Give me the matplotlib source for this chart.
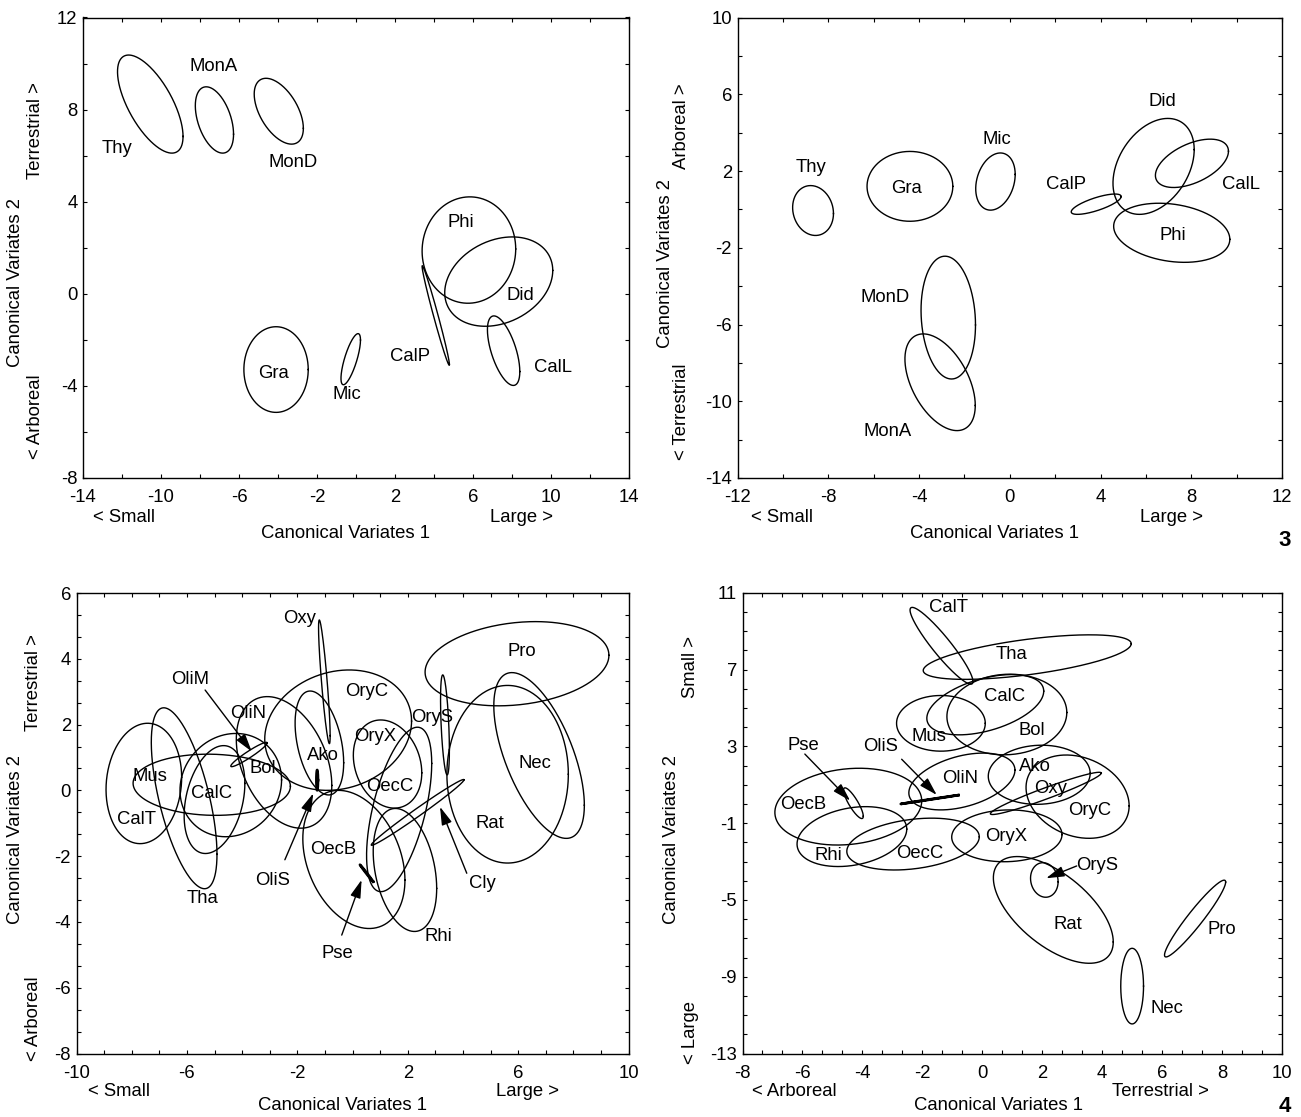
"""
Canonical variates plots: four panels of confidence ellipses
"""
import numpy as np
import matplotlib
matplotlib.use('Agg')
import matplotlib.pyplot as plt
from matplotlib.ticker import MultipleLocator, FixedLocator

plt.rcParams['font.family'] = ['Liberation Sans', 'DejaVu Sans']
plt.rcParams['axes.unicode_minus'] = False

W, H = 1301, 1117
FS = 13.3

# ---------------- panel 1 ----------------
p1_names = ['Thy', 'MonA', 'MonD', 'Phi', 'Did', 'CalP', 'CalL', 'Gra', 'Mic']
p1_cx = [-10.55, -7.26, -3.96, 5.79, 7.32, 4.09, 7.57, -4.10, -0.27]
p1_cy = [8.24, 7.55, 7.93, 1.90, 0.53, -0.94, -2.47, -3.29, -2.84]
p1_rx = [1.68, 0.98, 1.26, 2.40, 2.77, 0.70, 0.83, 1.65, 0.50]
p1_ry = [2.13, 1.44, 1.43, 2.31, 1.94, 2.16, 1.51, 1.86, 1.11]
p1_rho = [-0.66, -0.43, -0.52, 0.02, 0.25, -0.985, -0.60, 0.0, 0.75]
p1_lx = [-12.26, -7.30, -3.21, 5.38, 8.45, 2.77, 10.1, -4.21, -0.49]
p1_ly = [6.33, 9.87, 5.71, 3.09, -0.07, -2.74, -3.2, -3.45, -4.38]

# ---------------- panel 2 ----------------
p2_names = ['Thy', 'Gra', 'Mic', 'CalP', 'Did', 'CalL', 'Phi', 'MonD', 'MonA']
p2_cx = [-8.67, -4.40, -0.63, 3.81, 6.34, 8.03, 7.14, -2.71, -3.07]
p2_cy = [-0.06, 1.20, 1.45, 0.27, 2.24, 2.40, -1.22, -5.64, -9.01]
p2_rx = [0.90, 1.89, 0.87, 1.10, 1.79, 1.61, 2.56, 1.20, 1.55]
p2_ry = [1.30, 1.82, 1.49, 0.53, 2.50, 1.26, 1.54, 3.20, 2.52]
p2_rho = [-0.12, 0.0, 0.25, 0.75, 0.35, 0.5, -0.22, -0.12, -0.48]
p2_lx = [-8.75, -4.56, -0.55, 2.47, 6.71, 10.19, 7.17, -5.51, -5.38]
p2_ly = [2.18, 1.10, 3.66, 1.29, 5.62, 1.29, -1.38, -4.59, -11.59]

# ---------------- panel 3 ----------------
p3_names = ['CalT', 'Tha', 'Mus', 'CalC', 'Bol', 'OliN', 'OliM', 'Oxy', 'OryC', 'Ako', 'OliS',
            'OryX', 'OecC', 'OryS', 'OecB', 'Pse', 'Rhi', 'Cly', 'Pro', 'Nec', 'Rat']
p3_cx = [-7.56, -6.10, -5.10, -5.00, -4.41, -2.48, -3.75, -1.02, -0.52, -1.20, -1.28,
         1.27, 1.69, 3.35, 0.05, 0.51, 1.90, 2.36, 5.96, 6.76, 5.62]
p3_cy = [0.21, -0.24, 0.17, -0.28, 0.16, 0.85, 1.09, 3.30, 1.83, 1.44, 0.31,
         0.80, -0.58, 1.99, -2.10, -2.52, -2.42, -0.67, 3.85, 1.06, 0.49]
p3_rx = [1.37, 1.19, 2.85, 1.10, 1.84, 1.73, 0.66, 0.21, 2.66, 0.88, 0.03,
         1.24, 1.18, 0.16, 1.85, 0.24, 1.15, 1.68, 3.33, 1.64, 2.20]
p3_ry = [1.83, 2.75, 0.93, 1.64, 1.57, 2.00, 0.37, 1.88, 1.83, 1.58, 0.31,
         1.34, 2.50, 1.52, 2.10, 0.26, 1.87, 1.00, 1.28, 2.52, 2.70]
p3_rho = [0.1, -0.62, -0.05, 0.3, 0.1, -0.35, 0.95, -0.87, 0.15, -0.38, 0.0,
          -0.2, 0.56, -0.5, -0.3, -0.997, -0.3, 0.99, 0.2, -0.6, 0.0]
p3_thick = ['OliS', 'Pse']
p3_lx = [-7.82, -5.44, -7.34, -5.10, -3.25, -3.78, -5.89, -1.90, 0.51, -1.06, -2.88,
         0.82, 1.36, 2.88, -0.70, -0.54, 3.11, 4.72, 6.13, 6.61, 4.98]
p3_ly = [-0.88, -3.30, 0.42, -0.11, 0.67, 2.34, 3.36, 5.23, 3.0, 1.06, -2.74,
         1.63, 0.11, 2.2, -1.81, -4.95, -4.45, -2.82, 4.22, 0.82, -1.0]
# arrows: (tail x, tail y, tip x, tip y)
p3_arrows = [(-5.34, 3.05, -3.65, 1.18), (-2.45, -2.11, -1.42, -0.09),
             (-0.39, -4.40, 0.33, -2.72), (4.14, -2.52, 3.17, -0.50)]

# ---------------- panel 4 ----------------
p4_names = ['CalT', 'Tha', 'CalC', 'Bol', 'Mus', 'OliN', 'OliS', 'Pse', 'OecB', 'Rhi',
            'OecC', 'OryX', 'Ako', 'Oxy', 'OryC', 'OryS', 'Rat', 'Pro', 'Nec']
p4_cx = [-1.36, 1.5, 0.1, 0.82, -1.38, -0.68, -1.76, -4.30, -4.47, -4.35,
         -2.31, 0.82, 1.9, 2.12, 3.18, 2.07, 2.37, 7.1, 5.0]
p4_cy = [8.24, 7.65, 5.17, 4.66, 4.2, 1.17, 0.23, 0.04, -0.14, -1.70,
         -2.09, -1.66, 1.52, 0.55, 0.38, -3.96, -5.52, -5.97, -9.49]
p4_rx = [1.05, 3.47, 1.95, 2.0, 1.48, 1.77, 0.96, 0.33, 2.45, 1.83,
         2.21, 1.84, 1.7, 1.85, 1.72, 0.46, 2.0, 1.02, 0.38]
p4_ry = [2.0, 1.16, 1.57, 2.1, 1.45, 1.48, 0.23, 0.8, 2.0, 1.56,
         1.35, 1.35, 1.54, 1.1, 2.17, 0.9, 2.78, 2.0, 1.97]
p4_rho = [-0.93, 0.6, 0.45, 0.05, 0.0, 0.4, 0.999, -0.85, 0.15, 0.25,
          0.28, 0.05, 0.05, 0.96, -0.22, -0.1, -0.6, 0.95, 0.0]
p4_thick = ['OliS']
p4_lx = [-1.13, 0.98, 0.76, 1.65, -1.77, -0.74, -3.41, -5.97, -5.97, -5.14,
         -2.08, 0.81, 1.76, 2.28, 3.59, 3.84, 2.87, 7.99, 6.17]
p4_ly = [10.24, 7.76, 5.59, 3.85, 3.51, 1.34, 2.98, 3.07, -0.05, -2.66,
         -2.6, -1.67, 1.94, 0.82, -0.35, -3.23, -6.30, -6.56, -10.64]
p4_arrows = [(-5.92, 2.6, -4.41, 0.17), (-2.69, 2.33, -1.52, 0.47), (3.15, -3.23, 2.13, -3.87)]


def ax_rect(x0, y0, x1, y1):
    """pixel box (top-left origin) -> figure fraction rect"""
    return [x0 / W, 1 - y1 / H, (x1 - x0) / W, (y1 - y0) / H]


def ftext(x, y, s, **kw):
    kw.setdefault('fontsize', FS)
    fig.text(x / W, 1 - y / H, s, ha='center', va='center', **kw)


def draw_panel(ax, names, cx, cy, rx, ry, rho, lx, ly, thick=(), arrows=()):
    t = np.linspace(0, 2 * np.pi, 300)
    for i, name in enumerate(names):
        r = rho[i]
        x = cx[i] + rx[i] * np.cos(t)
        y = cy[i] + ry[i] * (r * np.cos(t) + np.sqrt(1 - r ** 2) * np.sin(t))
        lw = 1.9 if name in thick else 1.0
        ax.plot(x, y, color='black', lw=lw)
        ax.text(lx[i], ly[i], name, ha='center', va='center', fontsize=FS)
    for (x0, y0, x1, y1) in arrows:
        ax.annotate('', xy=(x1, y1), xytext=(x0, y0),
                    arrowprops=dict(arrowstyle='-|>,head_length=1.1,head_width=0.32',
                                    color='black', lw=1.0, shrinkA=0, shrinkB=0,
                                    mutation_scale=10))


def style_axes(ax, xlim, ylim, xmaj, ymaj, xmin, ymin):
    ax.set_xlim(*xlim)
    ax.set_ylim(*ylim)
    ax.xaxis.set_major_locator(FixedLocator(xmaj))
    ax.yaxis.set_major_locator(FixedLocator(ymaj))
    ax.xaxis.set_minor_locator(MultipleLocator(xmin))
    ax.yaxis.set_minor_locator(MultipleLocator(ymin))
    ax.tick_params(which='both', direction='in', top=True, right=True,
                   length=3, width=0.8, labelsize=FS)
    ax.tick_params(axis='x', pad=8)
    ax.tick_params(axis='y', pad=4)
    for sp in ax.spines.values():
        sp.set_linewidth(1.0)


fig = plt.figure(figsize=(W / 100, H / 100), dpi=100)
fig.patch.set_facecolor('white')

# panel 1
ax1 = fig.add_axes(ax_rect(83, 17.5, 629, 478))
draw_panel(ax1, p1_names, p1_cx, p1_cy, p1_rx, p1_ry, p1_rho, p1_lx, p1_ly)
style_axes(ax1, (-14, 14), (-8, 12), range(-14, 15, 4), range(-8, 13, 4), 2, 2)

# panel 2
ax2 = fig.add_axes(ax_rect(737.5, 17.5, 1282, 478))
draw_panel(ax2, p2_names, p2_cx, p2_cy, p2_rx, p2_ry, p2_rho, p2_lx, p2_ly)
style_axes(ax2, (-12, 12), (-14, 10), range(-12, 13, 4), range(-14, 11, 4), 2, 2)

# panel 3
ax3 = fig.add_axes(ax_rect(76.5, 593, 628.5, 1053.5))
draw_panel(ax3, p3_names, p3_cx, p3_cy, p3_rx, p3_ry, p3_rho, p3_lx, p3_ly,
           p3_thick, p3_arrows)
style_axes(ax3, (-10, 10), (-8, 6), range(-10, 11, 4), range(-8, 7, 2), 1, 2 / 3)

# panel 4
ax4 = fig.add_axes(ax_rect(742.5, 592.8, 1282, 1053.5))
draw_panel(ax4, p4_names, p4_cx, p4_cy, p4_rx, p4_ry, p4_rho, p4_lx, p4_ly,
           p4_thick, p4_arrows)
style_axes(ax4, (-8, 10), (-13, 11), range(-8, 11, 2), range(-13, 12, 4), 2 / 3, 1)

# axis titles and direction hints
ftext(345, 533, 'Canonical Variates 1')
ftext(124, 517, '< Small')
ftext(521, 517, 'Large >')
ftext(16, 283, 'Canonical Variates 2', rotation=90)
ftext(35, 131, 'Terrestrial >', rotation=90)
ftext(35, 417, '< Arboreal', rotation=90)

ftext(995, 533, 'Canonical Variates 1')
ftext(782, 517, '< Small')
ftext(1171, 517, 'Large >')
ftext(665, 264, 'Canonical Variates 2', rotation=90)
ftext(681, 126, 'Arboreal >', rotation=90)
ftext(681, 412, '< Terrestrial', rotation=90)
ftext(1285, 540, '3', fontsize=16, fontweight='bold')

ftext(342, 1105, 'Canonical Variates 1')
ftext(119, 1091, '< Small')
ftext(527, 1091, 'Large >')
ftext(16, 840, 'Canonical Variates 2', rotation=90)
ftext(33, 683, 'Terrestrial >', rotation=90)
ftext(33, 1019, '< Arboreal', rotation=90)

ftext(998, 1105, 'Canonical Variates 1')
ftext(794, 1091, '< Arboreal')
ftext(1160, 1091, 'Terrestrial >')
ftext(672, 840, 'Canonical Variates 2', rotation=90)
ftext(690, 667, 'Small >', rotation=90)
ftext(690, 1033, '< Large', rotation=90)
ftext(1285, 1107, '4', fontsize=16, fontweight='bold')

fig.savefig('out.png', dpi=100)
